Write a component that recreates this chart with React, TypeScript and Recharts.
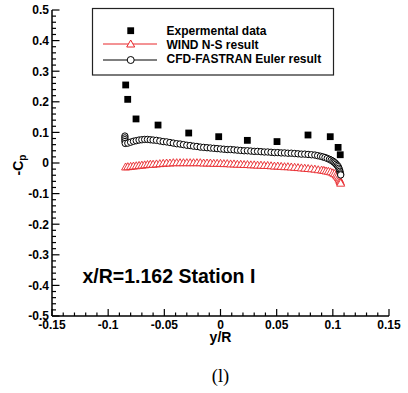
import React from 'react';
import { ScatterChart, Scatter, XAxis, YAxis, Customized } from 'recharts';

// ---------- data ----------
const expX = [-0.0844, -0.0826, -0.0752, -0.0556, -0.0283, -0.0016, 0.0239, 0.0503, 0.0779, 0.0977, 0.1047, 0.1066];
const expY = [0.255, 0.208, 0.144, 0.124, 0.098, 0.086, 0.074, 0.070, 0.0915, 0.086, 0.051, 0.027];

const cfdX = [
  -0.0851, -0.0851, -0.0851, -0.085, -0.0848, -0.0825, -0.08, -0.0775, -0.075, -0.0725,
  -0.07, -0.0675, -0.065, -0.0625, -0.06, -0.057, -0.054, -0.051, -0.048, -0.045,
  -0.042, -0.039, -0.036, -0.033, -0.03, -0.027, -0.024, -0.021, -0.018, -0.015,
  -0.012, -0.009, -0.006, -0.003, 0.0, 0.003, 0.006, 0.009, 0.012, 0.015,
  0.018, 0.021, 0.024, 0.027, 0.03, 0.033, 0.036, 0.039, 0.042, 0.045,
  0.048, 0.051, 0.054, 0.057, 0.06, 0.063, 0.066, 0.069, 0.072, 0.075,
  0.078, 0.081, 0.084, 0.0865, 0.089, 0.091, 0.093, 0.095, 0.097, 0.0985,
  0.1, 0.101, 0.102, 0.103, 0.104, 0.1048, 0.1054, 0.1059, 0.1063, 0.1066,
  0.1069, 0.107,
];
const cfdY = [
  0.088, 0.082, 0.076, 0.07, 0.064, 0.065, 0.068, 0.071, 0.073, 0.075,
  0.076, 0.077, 0.077, 0.076, 0.075, 0.074, 0.072, 0.07, 0.069, 0.067,
  0.065, 0.063, 0.062, 0.06, 0.058, 0.057, 0.055, 0.054, 0.052, 0.051,
  0.05, 0.049, 0.048, 0.047, 0.046, 0.045, 0.044, 0.044, 0.043, 0.042,
  0.041, 0.04, 0.04, 0.039, 0.038, 0.038, 0.037, 0.036, 0.036, 0.035,
  0.034, 0.034, 0.033, 0.033, 0.032, 0.032, 0.031, 0.03, 0.029, 0.029,
  0.028, 0.027, 0.026, 0.024, 0.022, 0.02, 0.018, 0.015, 0.012, 0.009,
  0.006, 0.003, 0.0, -0.004, -0.008, -0.012, -0.017, -0.022, -0.027, -0.032,
  -0.036, -0.039,
];

const windX = [
  -0.0845, -0.0825, -0.08, -0.0775, -0.075, -0.0725, -0.07, -0.0675, -0.065, -0.0625,
  -0.06, -0.057, -0.054, -0.051, -0.048, -0.045, -0.042, -0.039, -0.036, -0.033,
  -0.03, -0.027, -0.024, -0.021, -0.018, -0.015, -0.012, -0.009, -0.006, -0.003,
  0.0, 0.003, 0.006, 0.009, 0.012, 0.015, 0.018, 0.021, 0.024, 0.027,
  0.03, 0.033, 0.036, 0.039, 0.042, 0.045, 0.048, 0.051, 0.054, 0.057,
  0.06, 0.063, 0.066, 0.069, 0.072, 0.075, 0.078, 0.081, 0.084, 0.087,
  0.09, 0.092, 0.094, 0.096, 0.098, 0.1, 0.1015, 0.103, 0.104, 0.105,
  0.1057, 0.1063, 0.1067, 0.107,
];
const windY = [
  -0.013, -0.012, -0.011, -0.01, -0.009, -0.008, -0.007, -0.006, -0.005, -0.004,
  -0.004, -0.003, -0.002, -0.001, 0.0, 0.0, 0.001, 0.001, 0.001, 0.001,
  0.001, 0.001, 0.001, 0.001, 0.001, 0.0, 0.0, 0.0, -0.001, -0.001,
  -0.001, -0.002, -0.002, -0.003, -0.003, -0.004, -0.004, -0.005, -0.005, -0.006,
  -0.006, -0.007, -0.007, -0.008, -0.008, -0.009, -0.01, -0.01, -0.011, -0.012,
  -0.012, -0.013, -0.014, -0.015, -0.016, -0.017, -0.018, -0.019, -0.02, -0.022,
  -0.023, -0.024, -0.026, -0.027, -0.029, -0.032, -0.035, -0.039, -0.043, -0.048,
  -0.053, -0.058, -0.062, -0.066,
];

const xMajorTicks = [-0.15, -0.1, -0.05, 0, 0.05, 0.1, 0.15];
const xTickLabels = ['-0.15', '-0.1', '-0.05', '0', '0.05', '0.1', '0.15'];
const yMajorTicks = [-0.5, -0.4, -0.3, -0.2, -0.1, 0, 0.1, 0.2, 0.3, 0.4, 0.5];
const yTickLabels = ['-0.5', '-0.4', '-0.3', '-0.2', '-0.1', '0', '0.1', '0.2', '0.3', '0.4', '0.5'];

const seriesNames = ['Expermental data', 'WIND N-S result', 'CFD-FASTRAN Euler result'];
const annotationText = 'x/R=1.162 Station I';
const xTitle = 'y/R';
const caption = '(l)';

// ---------- derived ----------
const expData = expX.map((x, i) => ({ x, y: expY[i] }));
const cfdData = cfdX.map((x, i) => ({ x, y: cfdY[i] }));
const windData = windX.map((x, i) => ({ x, y: windY[i] }));

const buildMinor = (majors: number[], sub: number) => {
  const out: number[] = [];
  for (let i = 0; i < majors.length - 1; i++) {
    const a = majors[i];
    const b = majors[i + 1];
    for (let k = 0; k < sub; k++) out.push(+(a + ((b - a) * k) / sub).toFixed(4));
  }
  out.push(majors[majors.length - 1]);
  return out;
};
const xAllTicks = buildMinor(xMajorTicks, 5);
const yAllTicks = buildMinor(yMajorTicks, 5);

const FONT = '"Liberation Sans", Arial, Helvetica, sans-serif';
const RED = '#e8262a';

const findMajor = (arr: number[], v: number) => arr.findIndex((m) => Math.abs(m - v) < 1e-6);

const XTick = (props: any) => {
  const { x, y, payload } = props;
  const idx = findMajor(xMajorTicks, payload.value);
  const major = idx >= 0;
  return (
    <g>
      <line x1={x} x2={x} y1={y} y2={y - (major ? 7 : 3.5)} stroke="#000" strokeWidth={1.2} />
      {major && (
        <text x={x} y={y + 12.5} textAnchor="middle" fontFamily={FONT} fontWeight="bold" fontSize={12} fill="#000">
          {xTickLabels[idx]}
        </text>
      )}
    </g>
  );
};

const YTick = (props: any) => {
  const { x, y, payload } = props;
  const idx = findMajor(yMajorTicks, payload.value);
  const major = idx >= 0;
  return (
    <g>
      <line x1={x} x2={x + (major ? 7.5 : 4)} y1={y} y2={y} stroke="#000" strokeWidth={1.2} />
      {major && (
        <text x={x - 3} y={y + 4.3} textAnchor="end" fontFamily={FONT} fontWeight="bold" fontSize={12} fill="#000">
          {yTickLabels[idx]}
        </text>
      )}
    </g>
  );
};

const SquareShape = (p: any) => (
  <rect x={p.cx - 3.4} y={p.cy - 3.4} width={6.8} height={6.8} fill="#000" />
);
const CircleShape = (p: any) => (
  <circle cx={p.cx} cy={p.cy} r={3.2} fill="#fff" stroke="#000" strokeWidth={1} />
);
const TriangleShape = (p: any) => (
  <path
    d={`M${p.cx},${p.cy - 4} L${p.cx + 4},${p.cy + 3} L${p.cx - 4},${p.cy + 3} Z`}
    fill="#fff"
    stroke={RED}
    strokeWidth={0.9}
  />
);

const Decorations = () => (
  <g>
    {/* legend */}
    <rect x={92.5} y={8.5} width={241} height={66.5} fill="#fff" stroke="#222" strokeWidth={1.2} />
    <rect x={127.3} y={27.3} width={6.8} height={6.8} fill="#000" />
    <line x1={103} x2={157} y1={44} y2={44} stroke={RED} strokeWidth={1} />
    <path d="M130.7,40 L134.7,47 L126.7,47 Z" fill="#fff" stroke={RED} strokeWidth={1} />
    <line x1={103} x2={157} y1={60} y2={60} stroke="#000" strokeWidth={1} />
    <circle cx={130.7} cy={60} r={3.5} fill="#fff" stroke="#000" strokeWidth={1} />
    <text x={166.5} y={35} fontFamily={FONT} fontWeight="bold" fontSize={12} fill="#000">{seriesNames[0]}</text>
    <text x={166.5} y={48.5} fontFamily={FONT} fontWeight="bold" fontSize={12} fill="#000">{seriesNames[1]}</text>
    <text x={166.5} y={62.5} fontFamily={FONT} fontWeight="bold" fontSize={12} fill="#000">{seriesNames[2]}</text>
    {/* annotation */}
    <text x={82.5} y={283} fontFamily={FONT} fontWeight="bold" fontSize={19.5} fill="#000">{annotationText}</text>
    {/* axis titles */}
    <text x={220.5} y={341.5} textAnchor="middle" fontFamily={FONT} fontWeight="bold" fontSize={14} fill="#000">{xTitle}</text>
    <text transform="translate(23,165) rotate(-90)" textAnchor="middle" fontFamily={FONT} fontWeight="bold" fontSize={14} fill="#000">
      -C<tspan fontSize={10} dy={3}>p</tspan>
    </text>
    <text x={220.5} y={381.5} textAnchor="middle" fontFamily='"Liberation Serif", "Times New Roman", serif' fontSize={18.5} fill="#000">{caption}</text>
  </g>
);

export default function App() {
  return (
    <div style={{ position: 'absolute', left: 0, top: 0, width: 408, height: 393, background: '#fff' }}>
      <ScatterChart width={408} height={393} margin={{ top: 10, right: 19, bottom: 0, left: 0 }}>
        <XAxis
          type="number"
          dataKey="x"
          domain={[-0.15, 0.15]}
          ticks={xAllTicks}
          interval={0}
          allowDataOverflow
          height={77}
          tickSize={0}
          tickMargin={0}
          tickLine={false}
          axisLine={{ stroke: '#000', strokeWidth: 1.5 }}
          tick={<XTick />}
        />
        <YAxis
          type="number"
          dataKey="y"
          domain={[-0.5, 0.5]}
          ticks={yAllTicks}
          interval={0}
          allowDataOverflow
          width={52}
          tickSize={0}
          tickMargin={0}
          tickLine={false}
          axisLine={{ stroke: '#000', strokeWidth: 1.5 }}
          tick={<YTick />}
        />
        <Scatter
          name={seriesNames[1]}
          data={windData}
          line={{ stroke: RED, strokeWidth: 1 }}
          shape={TriangleShape}
          isAnimationActive={false}
        />
        <Scatter
          name={seriesNames[2]}
          data={cfdData}
          line={{ stroke: '#000', strokeWidth: 1 }}
          shape={CircleShape}
          isAnimationActive={false}
        />
        <Scatter name={seriesNames[0]} data={expData} shape={SquareShape} isAnimationActive={false} />
        <Customized component={Decorations} />
      </ScatterChart>
    </div>
  );
}
